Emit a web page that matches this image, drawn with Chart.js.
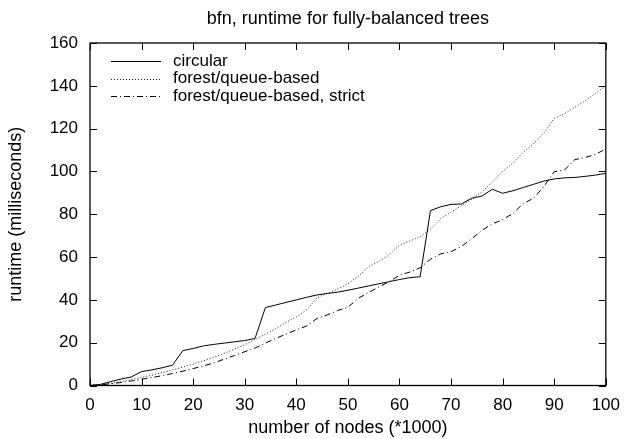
<!DOCTYPE html>
<html>
<head>
<meta charset="utf-8">
<script src="https://cdn.jsdelivr.net/npm/chart.js@4/dist/chart.umd.min.js"></script>
<style>
  html, body { margin: 0; padding: 0; background: #fff; }
  #chart { display: block; }
</style>
</head>
<body>
<canvas id="chart" width="630" height="439"></canvas>
<script>
// nodes (*1000)
const nodes = [0, 2, 4, 6, 8, 10, 12, 14, 16, 18, 20, 22, 24, 26, 28, 30, 32, 34, 36, 38, 40,
  42, 44, 46, 48, 50, 52, 54, 56, 58, 60, 62, 64, 66, 68, 70, 72, 74, 76, 78, 80,
  82, 84, 86, 88, 90, 92, 94, 96, 98, 100];

const circular = [0, 0.5, 1.8, 3, 4, 6.5, 7.3, 8.3, 9.5, 16.3, 17.3, 18.5, 19.2, 19.8, 20.4, 21, 22, 36.4, 37.6, 38.8, 40,
  41.2, 42.3, 43, 43.6, 44.5, 45.5, 46.5, 47.5, 48.5, 49.5, 50.4, 50.8, 81.7, 83.5, 84.6, 84.8, 87.5, 88.5, 91.7, 89.8,
  91, 92.5, 94, 95.5, 96.5, 97, 97.2, 97.7, 98.3, 99.1];

const forestQueue = [0, 0.4, 1, 1.8, 2.8, 3.8, 4.8, 6, 7.3, 8.6, 10, 11.6, 13.2, 15, 17, 19, 21.5, 24, 26.5, 29.5, 32,
  35.3, 41, 43, 45, 47.5, 51, 55.5, 58, 61, 65.6, 67.5, 69.5, 73, 78, 81, 84, 87, 90.5, 95, 100,
  104, 109, 113, 118, 124.8, 127, 130, 133, 136.5, 140];

const forestStrict = [0, 0.3, 0.8, 1.4, 2.1, 2.9, 3.7, 4.6, 5.6, 6.7, 7.9, 9.2, 10.5, 12.3, 14, 15.8, 17.5, 19.8, 22, 24, 26,
  27.8, 31.3, 33, 35, 36.6, 40.7, 43.5, 46, 48.5, 51.5, 53, 55, 59, 61.5, 62.5, 65, 68.5, 72.5, 75.5, 77.5,
  80.4, 85, 87.5, 93, 99.9, 100.7, 105.5, 106.5, 108, 110.5];

const seriesNames = ['circular', 'forest/queue-based', 'forest/queue-based, strict'];
const dashes = [[], [1, 2], [6, 3, 1, 3]];
const colors = ['#000', '#222', '#000'];

const FONT = '"Liberation Sans", Arial, Helvetica, sans-serif';

function points(values) {
  return nodes.map((n, i) => ({ x: n, y: values[i] }));
}

// frame, inward ticks on all four sides, and the key inside the plot
const framePlugin = {
  id: 'frame',
  afterDraw(chart) {
    const { ctx, chartArea: a, scales } = chart;
    const tl = 7;
    ctx.save();
    ctx.strokeStyle = '#000';
    ctx.lineWidth = 1;
    ctx.beginPath();
    scales.x.ticks.forEach((t) => {
      const px = Math.round(scales.x.getPixelForValue(t.value)) + 0.5;
      ctx.moveTo(px, a.bottom); ctx.lineTo(px, a.bottom - tl);
      ctx.moveTo(px, a.top); ctx.lineTo(px, a.top + tl);
    });
    scales.y.ticks.forEach((t) => {
      const py = Math.round(scales.y.getPixelForValue(t.value)) + 0.5;
      ctx.moveTo(a.left, py); ctx.lineTo(a.left + tl, py);
      ctx.moveTo(a.right, py); ctx.lineTo(a.right - tl, py);
    });
    ctx.stroke();
    ctx.lineWidth = 1.3;
    ctx.strokeRect(a.left, a.top, a.right - a.left, a.bottom - a.top);

    // key
    ctx.font = '17px ' + FONT;
    ctx.textBaseline = 'middle';
    ctx.fillStyle = '#000';
    seriesNames.forEach((name, i) => {
      const y = a.top + 18 + i * 17.7;
      ctx.beginPath();
      ctx.setLineDash(dashes[i]);
      ctx.lineWidth = 1;
      ctx.strokeStyle = colors[i];
      ctx.moveTo(a.left + 21, Math.round(y) + 0.5);
      ctx.lineTo(a.left + 71, Math.round(y) + 0.5);
      ctx.stroke();
      ctx.setLineDash([]);
      ctx.fillText(name, a.left + 83, y);
    });
    ctx.restore();
  }
};

new Chart(document.getElementById('chart'), {
  type: 'line',
  data: {
    datasets: [
      { label: seriesNames[0], data: points(circular), borderColor: colors[0], borderDash: dashes[0] },
      { label: seriesNames[1], data: points(forestQueue), borderColor: colors[1], borderDash: dashes[1] },
      { label: seriesNames[2], data: points(forestStrict), borderColor: colors[2], borderDash: dashes[2] }
    ]
  },
  options: {
    responsive: false,
    animation: false,
    devicePixelRatio: 1,
    layout: { padding: { left: 0, right: 20, top: 0, bottom: 0 } },
    elements: {
      point: { radius: 0 },
      line: { borderWidth: 1, tension: 0, fill: false }
    },
    plugins: {
      legend: { display: false },
      tooltip: { enabled: false },
      title: {
        display: true,
        fullSize: false,
        text: 'bfn, runtime for fully-balanced trees',
        color: '#000',
        font: { family: FONT, size: 18, weight: 'normal' },
        padding: { top: 8, bottom: 13.4 }
      }
    },
    scales: {
      x: {
        type: 'linear',
        min: 0,
        max: 100,
        ticks: { stepSize: 10, color: '#000', font: { family: FONT, size: 17 }, padding: 10, maxRotation: 0 },
        grid: { display: false, drawTicks: false },
        border: { display: false },
        title: { display: true, text: 'number of nodes (*1000)', color: '#000',
          font: { family: FONT, size: 18 }, padding: { top: 0, bottom: 0 } },
        afterFit(s) { s.height = 53.5; }
      },
      y: {
        min: 0,
        max: 160,
        ticks: { stepSize: 20, color: '#000', font: { family: FONT, size: 17 }, padding: 12 },
        grid: { display: false, drawTicks: false },
        border: { display: false },
        title: { display: true, text: 'runtime (milliseconds)', color: '#000',
          font: { family: FONT, size: 18 }, padding: { top: 5, bottom: 0 } },
        afterFit(s) { s.width = 90; }
      }
    }
  },
  plugins: [framePlugin]
});
</script>
</body>
</html>
